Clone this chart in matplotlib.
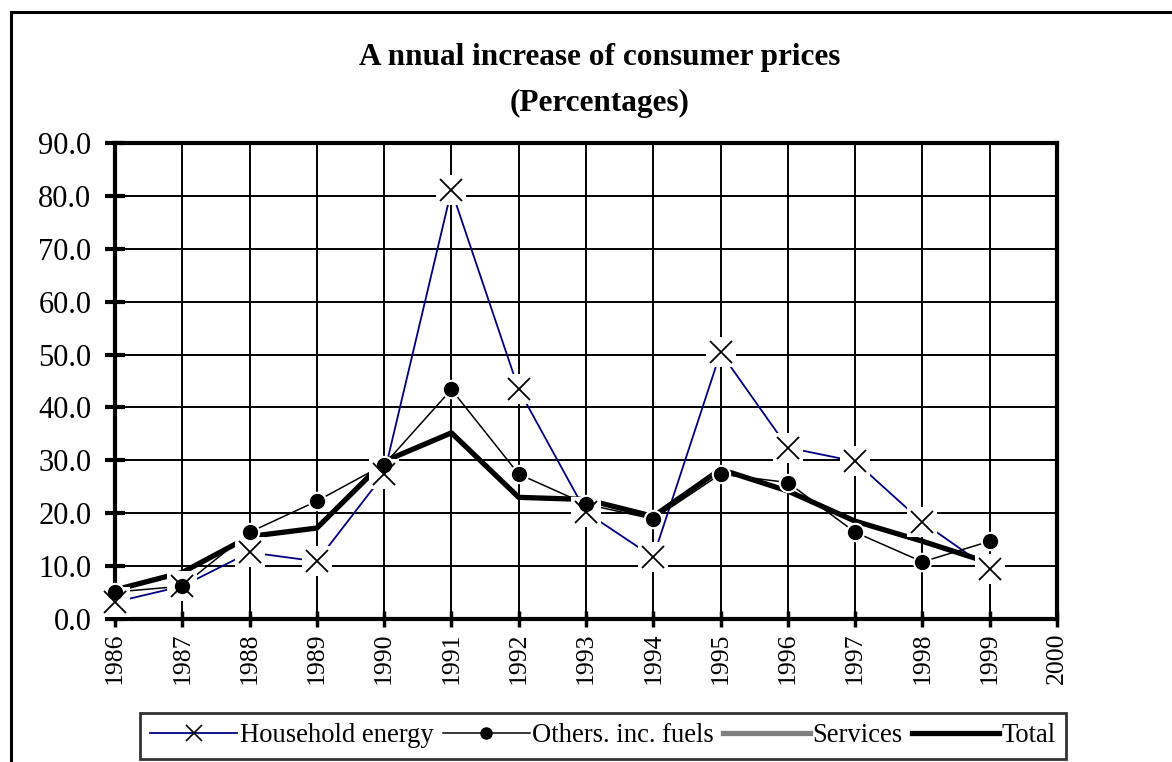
import matplotlib
matplotlib.use("Agg")
import matplotlib.pyplot as plt
from matplotlib.lines import Line2D
from matplotlib.patches import Rectangle
import numpy as np

years = [1986, 1987, 1988, 1989, 1990, 1991, 1992, 1993, 1994, 1995, 1996, 1997, 1998, 1999]
household_energy = [3.2, 6.2, 12.6, 10.9, 27.4, 81.1, 43.4, 20.2, 11.7, 50.4, 32.4, 29.8, 18.3, 9.4]
others_inc_fuels = [5.1, 6.2, 16.4, 22.3, 29.2, 43.4, 27.4, 21.7, 18.9, 27.4, 25.8, 16.4, 10.8, 14.7]
services = []  # not visible in the chart (only in legend)
total = [5.5, 8.8, 15.6, 17.2, 29.8, 35.2, 23.0, 22.6, 19.4, 28.3, 24.2, 18.5, 14.7, 10.6]

series_labels = ["Household energy", "Others. inc. fuels", "Services", "Total"]
title_line1 = "A nnual increase of consumer prices"
title_line2 = "(Percentages)"
x_ticks = list(range(1986, 2001))
y_ticks = list(range(0, 91, 10))

plt.rcParams['font.family'] = ['Liberation Serif', 'DejaVu Serif']

W, H = 1172, 762
fig = plt.figure(figsize=(W / 100, H / 100), dpi=100)

# outer frame
fig.patches.append(Rectangle((11 / W, -0.1), 1.2, 1 - 12 / H + 0.1, transform=fig.transFigure,
                             fill=False, edgecolor='black', linewidth=2.2, clip_on=False))

ax = fig.add_axes([115 / W, 1 - 619 / H, (1057 - 115) / W, (619 - 143) / H])
ax.set_xlim(1986, 2000)
ax.set_ylim(0, 90)
ax.set_xticks(x_ticks)
ax.set_xticklabels([str(t) for t in x_ticks], rotation=90, fontsize=18.5)
ax.set_yticks(y_ticks)
ax.set_yticklabels(["%.1f" % t for t in y_ticks], fontsize=22)
ax.grid(True, color='black', linewidth=1.4)
ax.set_axisbelow(True)
for s in ax.spines.values():
    s.set_linewidth(3)
ax.tick_params(axis='y', direction='inout', length=14, width=3, pad=10)
ax.tick_params(axis='x', direction='inout', length=12, width=2.5, pad=4)

# lines
ax.plot(years, household_energy, color='#000080', linewidth=1.3, zorder=3, clip_on=False)
ax.plot(years, others_inc_fuels, color='black', linewidth=1.1, zorder=3, clip_on=False)
ax.plot(years[:len(services)], services, color='#808080', linewidth=4, zorder=3, clip_on=False)
ax.plot(years, total, color='black', linewidth=3.8, zorder=3.2, clip_on=False)

# white halos + markers
ax.plot(years, household_energy, linestyle='none', marker='s', markersize=21, color='white',
        markeredgewidth=0, zorder=4, clip_on=False)
ax.plot(years, household_energy, linestyle='none', marker='x', markersize=16, color='black',
        markeredgewidth=1.3, zorder=5, clip_on=False)
ax.plot(years, others_inc_fuels, linestyle='none', marker='o', markersize=14, color='white',
        markeredgewidth=0, zorder=4.5, clip_on=False)
ax.plot(years, others_inc_fuels, linestyle='none', marker='o', markersize=11, color='black',
        markeredgewidth=0, zorder=5.5, clip_on=False)

fig.text(600 / W, 1 - 58 / H, title_line1, ha='center', va='center', fontsize=22.5, fontweight='bold')
fig.text(600 / W, 1 - 103 / H, title_line2, ha='center', va='center', fontsize=22.5, fontweight='bold')

handles = [
    Line2D([], [], color='#000080', linewidth=1.3, marker='x', markersize=11, markeredgecolor='black', markeredgewidth=1.2),
    Line2D([], [], color='black', linewidth=1.1, marker='o', markersize=9, markerfacecolor='black', markeredgewidth=0),
    Line2D([], [], color='#808080', linewidth=3.8),
    Line2D([], [], color='black', linewidth=3.8),
]
leg = fig.legend(handles, series_labels, loc='center', bbox_to_anchor=(603 / W, 1 - 736 / H),
                 ncol=4, fontsize=19.2, frameon=True, fancybox=False, edgecolor='black',
                 handlelength=3.25, handletextpad=0.1, columnspacing=0.35, borderpad=0.4,
                 borderaxespad=0)
leg.get_frame().set_linewidth(2)

fig.savefig("out.png", dpi=100)
